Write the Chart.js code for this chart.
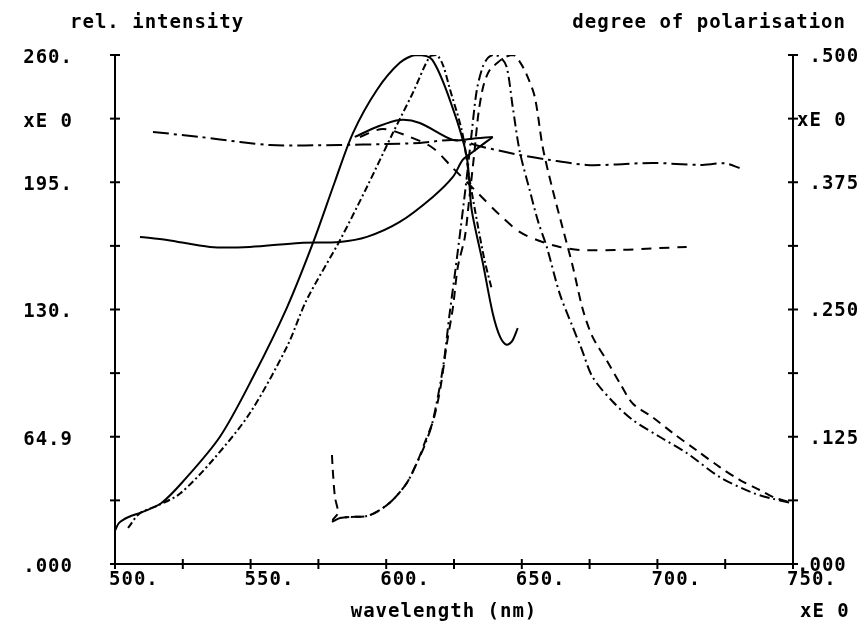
<!DOCTYPE html>
<html lang="en">
<head>
  <meta charset="UTF-8">
  <title>Intensity and degree of polarisation</title>
  <script src="https://cdn.jsdelivr.net/npm/chart.js"></script>
  <style>
    body { margin: 0; background: #fff; }
    #grafico { display: block; }
  </style>
</head>
<body>
  <canvas id="grafico" width="866" height="628"></canvas>

  <script>
    // excitation spectra (rel. intensity, left axis)
    const excSolidX = [500, 501.5, 505, 510, 517, 525, 538.7, 550.9, 563.4, 573, 581, 587.7, 596.5, 605, 611, 617, 624.5, 629.7, 631.5, 635.6, 639.3, 642, 644.4, 646.5, 648.5];
    const excSolidY = [17, 21, 24, 26.5, 31, 42, 65, 95.5, 131, 164, 195, 220, 242, 256, 260, 257.5, 233, 208, 181, 154, 128, 116, 112, 114, 120.5];

    const excDashDotX = [504.8, 509.2, 516, 524, 536, 549.7, 563.4, 570.7, 583, 592.9, 602.4, 609.8, 616, 618.6, 620.9, 623.4, 628, 630.8, 633.5, 636.3, 639];
    const excDashDotY = [18.4, 26, 30, 36, 53, 77, 111, 135, 165.5, 192.6, 220, 240.6, 259, 260, 255, 243, 220.7, 196, 175, 155, 140];

    // emission spectra (rel. intensity, left axis)
    const emDashDotX = [580, 583, 586.6, 592.9, 597.7, 602.4, 607.6, 611.3, 614, 617, 620.9, 623.4, 625.5, 627.5, 629.5, 631.5, 633.4, 635.6, 637.5, 639.5, 642, 644.4, 646.7, 649.2, 652.9, 656, 659.2, 664, 668.8, 672, 676.1, 683.5, 690.9, 700.8, 710.8, 723, 735.2, 742, 750];
    const emDashDotY = [21.5, 23.5, 24, 24.5, 27.6, 32.7, 41.4, 51.6, 60, 72, 100, 128, 150, 172, 195, 220, 242, 254, 258.5, 260, 259, 254, 233, 211, 191, 175, 162, 138, 121, 110, 95.5, 83, 73.6, 65, 56.7, 44.4, 36.3, 33.5, 31];

    const emDashedX = [580, 580.3, 581.1, 582.2, 580.3, 583, 586.6, 592.9, 597.7, 602.4, 607.6, 611.3, 614.5, 617.5, 620, 622.3, 624.6, 626.4, 629, 630.5, 632.5, 634, 635.8, 638, 641, 644, 647, 649.5, 651.8, 654.8, 657.7, 661.4, 665, 668.8, 672.5, 676.1, 681.3, 686.1, 690.9, 698.2, 705.6, 714.5, 723, 730.3, 737.7, 743, 750];
    const emDashedY = [55.7, 48, 34.2, 26, 22.5, 23.5, 24, 24.5, 27.6, 32.7, 41.4, 51.6, 63, 74, 90, 112, 131, 151.7, 167, 185, 210, 230, 244, 252, 256, 259, 260, 256, 250, 238.5, 213, 191, 172, 152, 130, 116, 104, 92.5, 82, 75, 67, 58, 49.5, 43, 37.8, 34, 31];

    // degree of polarisation (right axis)
    const polDashDotX = [514, 531.3, 546.1, 557.1, 570, 582.9, 600, 612.4, 625.3, 635.6, 649.2, 660, 673.9, 685, 698.3, 715.6, 725, 730.3];
    const polDashDotY = [0.4244, 0.4195, 0.4146, 0.4116, 0.4112, 0.4116, 0.4125, 0.4136, 0.4165, 0.4097, 0.4018, 0.397, 0.392, 0.3925, 0.394, 0.392, 0.3935, 0.389];

    const polSolidX = [509.2, 519.2, 535, 549.7, 568.2, 582.9, 592.9, 605, 617.2, 624.6, 628.2, 631.9, 639.3];
    const polSolidY = [0.3213, 0.3183, 0.3115, 0.3115, 0.3154, 0.3164, 0.3213, 0.336, 0.3606, 0.3802, 0.3969, 0.4047, 0.4195];

    const polHumpX = [588.4, 596.5, 605, 612.4, 624.6, 630.8, 639.3];
    const polHumpY = [0.4195, 0.4293, 0.4362, 0.4332, 0.4165, 0.4175, 0.4195];

    const polDashedX = [590.3, 598.8, 608.7, 617.2, 624.2, 634.5, 641.9, 649.2, 656.6, 664, 671.4, 686.1, 698, 710.8];
    const polDashedY = [0.4195, 0.4273, 0.4195, 0.4087, 0.39, 0.3625, 0.3428, 0.3262, 0.3173, 0.3114, 0.3085, 0.3085, 0.31, 0.3114];

    // tick labels (only some ticks are labelled)
    const leftTickValues = [0, 65, 130, 195, 227.5, 260];
    const leftTickText = ['.000', '64.9', '130.', '195.', 'xE 0', '260.'];
    const rightTickValues = [0, 0.125, 0.25, 0.375, 0.4375, 0.5];
    const rightTickText = ['.000', ' .125', ' .250', ' .375', 'xE 0', ' .500'];
    const xTickValues = [500, 550, 600, 650, 700, 750];
    const xTickText = ['500.', '550.', '600.', '650.', '700.', '750.'];

    const fonte = { family: 'DejaVu Sans Mono', size: 19, weight: 'bold' };
    const espaco = '1px';

    function pontos(xs, ys) {
      return xs.map((x, i) => ({ x: x, y: ys[i] }));
    }

    function serie(xs, ys, eixo, traco) {
      return {
        data: pontos(xs, ys),
        yAxisID: eixo,
        borderColor: '#000',
        borderWidth: 2,
        borderDash: traco,
        pointRadius: 0,
        tension: 0.3,
        fill: false
      };
    }

    function rotulo(valores, textos) {
      return function (v) {
        const i = valores.findIndex(t => Math.abs(t - v) < 1e-6);
        return i >= 0 ? textos[i] : '';
      };
    }

    // wider plotter-like lettering
    const letras = {
      id: 'letras',
      beforeUpdate(chart) { chart.ctx.letterSpacing = espaco; },
      beforeDraw(chart) { chart.ctx.letterSpacing = espaco; }
    };

    // cross ticks on the axes and the free texts
    const marcas = {
      id: 'marcas',
      afterDraw(chart) {
        const ctx = chart.ctx;
        const area = chart.chartArea;
        ctx.save();
        ctx.strokeStyle = '#000';
        ctx.lineWidth = 2;
        ['y', 'y2'].forEach(id => {
          const s = chart.scales[id];
          const x0 = id === 'y' ? area.left : area.right;
          s.ticks.forEach(t => {
            const py = s.getPixelForValue(t.value);
            ctx.beginPath();
            ctx.moveTo(x0 - 5, py);
            ctx.lineTo(x0 + 5, py);
            ctx.stroke();
          });
        });
        const sx = chart.scales.x;
        sx.ticks.forEach(t => {
          const px = sx.getPixelForValue(t.value);
          ctx.beginPath();
          ctx.moveTo(px, area.bottom - 5);
          ctx.lineTo(px, area.bottom + 5);
          ctx.stroke();
        });

        ctx.fillStyle = '#000';
        ctx.letterSpacing = espaco;
        ctx.font = 'bold 19px "DejaVu Sans Mono"';
        ctx.textBaseline = 'alphabetic';
        ctx.textAlign = 'left';
        ctx.fillText('rel. intensity', 70, 28);
        ctx.textAlign = 'right';
        ctx.fillText('degree of polarisation', 846, 28);
        ctx.textAlign = 'center';
        ctx.fillText('wavelength (nm)', 444, 617);
        ctx.textAlign = 'left';
        ctx.fillText('xE 0', 800, 617);
        ctx.restore();
      }
    };

    new Chart(document.getElementById('grafico'), {
      type: 'line',
      data: {
        datasets: [
          serie(excSolidX, excSolidY, 'y', []),
          serie(excDashDotX, excDashDotY, 'y', [7, 3, 2, 3]),
          serie(emDashDotX, emDashDotY, 'y', [10, 4, 2, 4]),
          serie(emDashedX, emDashedY, 'y', [9, 6]),
          serie(polDashDotX, polDashDotY, 'y2', [16, 5, 3, 5]),
          serie(polSolidX, polSolidY, 'y2', []),
          serie(polHumpX, polHumpY, 'y2', []),
          serie(polDashedX, polDashedY, 'y2', [10, 8])
        ]
      },
      options: {
        responsive: false,
        animation: false,
        devicePixelRatio: 1,
        layout: { padding: { top: 55, left: 0, right: 0, bottom: 0 } },
        plugins: {
          legend: { display: false },
          tooltip: { enabled: false }
        },
        scales: {
          x: {
            type: 'linear',
            min: 500,
            max: 750,
            grid: { display: false, drawTicks: false },
            border: { display: true, color: '#000', width: 2 },
            ticks: {
              stepSize: 25,
              autoSkip: false,
              maxRotation: 0,
              align: 'start',
              labelOffset: -6,
              padding: 5,
              color: '#000',
              font: fonte,
              callback: rotulo(xTickValues, xTickText)
            },
            afterFit: s => { s.height = 64; }
          },
          y: {
            position: 'left',
            min: 0,
            max: 260,
            grid: { display: false, drawTicks: false },
            border: { display: true, color: '#000', width: 2 },
            ticks: {
              stepSize: 32.5,
              autoSkip: false,
              padding: 42,
              labelOffset: 3,
              color: '#000',
              font: fonte,
              callback: rotulo(leftTickValues, leftTickText)
            },
            afterFit: s => { s.width = 115; }
          },
          y2: {
            position: 'right',
            min: 0,
            max: 0.5,
            grid: { display: false, drawTicks: false },
            border: { display: true, color: '#000', width: 2 },
            ticks: {
              stepSize: 0.0625,
              autoSkip: false,
              padding: 4,
              labelOffset: 2,
              color: '#000',
              font: fonte,
              callback: rotulo(rightTickValues, rightTickText)
            },
            afterFit: s => { s.width = 73; }
          }
        }
      },
      plugins: [letras, marcas]
    });
  </script>
</body>
</html>
